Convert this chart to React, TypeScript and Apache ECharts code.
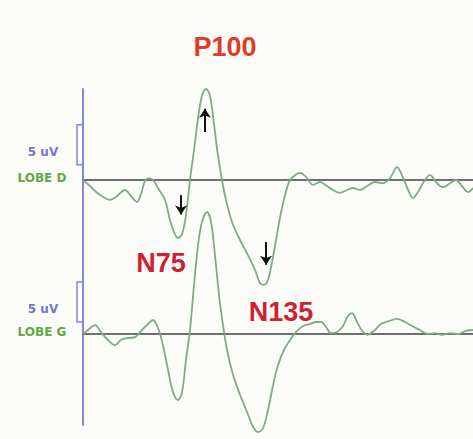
import React, { useEffect, useRef } from "react";
import * as echarts from "echarts";

// LOBE D (right) trace: time in ms, amplitude in µV
const timesD = [0, 5.4, 10.8, 16.9, 20.8, 26.2, 32.3, 36.9, 41.5, 44.6, 47.7, 50.8, 53.8, 57.7, 63.1, 66.9, 70, 73.1, 76.2, 79.2, 82.3, 85.4, 88.5, 91.5, 94.6, 97.7, 100.8, 103.8, 106.9, 110, 114.6, 120.8, 126.9, 132.3, 136.2, 139.2, 142.3, 145.4, 148.5, 151.5, 155.4, 159.2, 163.1, 166.9, 171.5, 176.9, 182.3, 187.7, 192.3, 197.7, 203.1, 207.7, 213.1, 218.5, 224.6, 230.8, 236.2, 241.5, 246.9, 250.8, 253.8, 257.7, 261.5, 266.9, 272.3, 276.9, 282.3, 286.9, 291.5, 296.2, 300];
const valuesD = [0, -0.75, -1.6, -2.25, -2.5, -2, -1.25, -2, -2.75, -1.75, -0.1, 0.2, 0, -1, -2.5, -5, -6.5, -7.25, -6.75, -4.4, 0, 3.75, 7.75, 10.5, 11.4, 10.5, 6.9, 3.1, 0, -2.5, -5.25, -7.5, -9.4, -11.25, -12.9, -13.1, -12.5, -10.25, -7.5, -4.75, -1.9, 0, 0.6, 0.9, 0.4, -0.6, -0.25, -0.75, -1.25, -1.6, -1.25, -1, -1.25, -0.75, -0.25, -0.4, 0.25, 1.6, 0, -1.5, -2.25, -1.5, -0.4, 0.6, -0.4, -0.9, -0.4, 0, -0.75, -1.5, -1];

// LOBE G (left) trace
const timesG = [0, 3.8, 9.2, 13.8, 19.2, 24.6, 29.2, 34.6, 40, 45.4, 50, 53.8, 57.7, 61.5, 65.4, 69.2, 73.1, 76.2, 79.2, 82.3, 85.4, 88.5, 91.5, 95.4, 98.5, 101.5, 104.6, 107.7, 110.8, 115.4, 120.8, 126.2, 130.8, 134.6, 138.5, 142.3, 146.2, 150, 154.6, 159.2, 163.1, 169.2, 174.6, 179.2, 183.1, 186.9, 190.8, 195.4, 200, 203.8, 206.9, 210.8, 214.6, 218.5, 224.6, 229.2, 235.4, 241.5, 247.7, 253.1, 259.2, 265.4, 270.8, 276.2, 282.3, 288.5, 294.6, 300];
const valuesG = [0, 0.5, 1.1, 0.25, -0.75, -1.4, -0.75, -0.5, -0.4, 0.5, 1.25, 1.75, 0.75, -1.4, -4.5, -7.25, -8.25, -7.25, -3.25, 0.5, 6.1, 11.1, 14, 15.25, 14, 9.9, 4.9, 1.1, -2, -5.1, -7.6, -9.75, -11.6, -12.25, -11.75, -9.5, -6.4, -3.9, -2, -0.75, 0.1, 1, 1.25, 1.5, 1.5, 0.9, 0.1, 0.25, 1, 2.25, 2.6, 1.5, 0.4, -0.1, 0.5, 1.25, 1.6, 1.9, 1.5, 1, 0.5, 0, 0.1, -0.1, 0.1, 0, 0.4, 0.5];

// Peak annotations (label position and arrow in data units of LOBE D)
const peakNames = ["P100", "N75", "N135"];
const peakLabelT = [109.2, 60, 152.3];
const peakLabelV = [16.6, -10.4, -16.5];
const arrowT = [93.8, 75.4, 140.8];
const arrowFrom = [6, -1.9, -7.75];
const arrowTo = [8.9, -4.3, -10.6];

// Channel names and 5 µV calibration bars
const channelNames = ["LOBE D", "LOBE G"];
const calibLow = [1.9, 1.5];
const calibSize = 5;

export default function App() {
  const ref = useRef<HTMLDivElement>(null);
  useEffect(() => {
    const chart = echarts.init(ref.current!, null, { renderer: "svg" });
    const gridBox = { left: 83, right: 0, top: 89, height: 336 };
    const xAx = (i: number) => ({
      type: "value",
      gridIndex: i,
      min: 0,
      max: 300,
      axisLine: { show: true, onZero: true, lineStyle: { color: "#6f6f6f", width: 2 } },
      axisTick: { show: false },
      axisLabel: { show: false },
      splitLine: { show: false },
    });
    const traceColor = "#82aa82";
    chart.setOption({
      animation: false,
      backgroundColor: "#fbfcf8",
      grid: [{ ...gridBox }, { ...gridBox }],
      xAxis: [xAx(0), xAx(1)],
      yAxis: [
        {
          type: "value",
          gridIndex: 0,
          min: -30.625,
          max: 11.375,
          axisLine: { show: true, onZero: false, lineStyle: { color: "#8585dc", width: 2 } },
          axisTick: { show: false },
          axisLabel: { show: false },
          splitLine: { show: false },
        },
        {
          type: "value",
          gridIndex: 1,
          min: -11.375,
          max: 30.625,
          axisLine: { show: false },
          axisTick: { show: false },
          axisLabel: { show: false },
          splitLine: { show: false },
        },
      ],
      series: [
        {
          type: "line",
          name: channelNames[0],
          xAxisIndex: 0,
          yAxisIndex: 0,
          data: timesD.map((t, i) => [t, valuesD[i]]),
          showSymbol: false,
          smooth: 0.35,
          clip: false,
          lineStyle: { color: traceColor, width: 1.8 },
          z: 3,
          markLine: {
            silent: true,
            symbol: ["none", "arrow"],
            symbolSize: 9,
            label: { show: false },
            lineStyle: { color: "#111", width: 2, type: "solid" },
            data: arrowT.map((t, i) => [
              { coord: [t, arrowFrom[i]] },
              { coord: [t, arrowTo[i]] },
            ]),
          },
        },
        {
          type: "line",
          name: channelNames[1],
          xAxisIndex: 1,
          yAxisIndex: 1,
          data: timesG.map((t, i) => [t, valuesG[i]]),
          showSymbol: false,
          smooth: 0.35,
          clip: false,
          lineStyle: { color: traceColor, width: 1.8 },
          z: 3,
        },
      ],
    });

    const px = (g: number, t: number, v: number) =>
      chart.convertToPixel({ xAxisIndex: g, yAxisIndex: g }, [t, v]) as number[];

    const graphics: any[] = [];
    peakNames.forEach((name, i) => {
      const p = px(0, peakLabelT[i], peakLabelV[i]);
      graphics.push({
        type: "text",
        x: p[0],
        y: p[1],
        z: 10,
        style: {
          text: name,
          fill: i === 0 ? "#e03c2a" : "#cf1f34",
          font: "bold 27px 'Liberation Sans', Arial, sans-serif",
          align: "center",
          verticalAlign: "middle",
        },
      });
    });
    channelNames.forEach((name, g) => {
      const base = px(g, 0, 0);
      const lo = px(g, 0, calibLow[g]);
      const hi = px(g, 0, calibLow[g] + calibSize);
      const ax = base[0] - 1;
      graphics.push({
        type: "polyline",
        z: 10,
        shape: { points: [[ax, hi[1]], [ax - 5, hi[1]], [ax - 5, lo[1]], [ax, lo[1]]] },
        style: { stroke: "#8585dc", lineWidth: 1.5, fill: null },
      });
      graphics.push({
        type: "text",
        x: ax - 39,
        y: (hi[1] + lo[1]) / 2 + 7,
        z: 10,
        style: {
          text: "5 uV",
          fill: "#7676c8",
          font: "bold 12px 'DejaVu Sans', sans-serif",
          align: "center",
          verticalAlign: "middle",
        },
      });
      graphics.push({
        type: "text",
        x: ax - 40,
        y: base[1] - 2,
        z: 10,
        style: {
          text: name,
          fill: "#62a846",
          font: "bold 12px 'DejaVu Sans', sans-serif",
          align: "center",
          verticalAlign: "middle",
        },
      });
    });
    chart.setOption({ graphic: graphics });

    return () => chart.dispose();
  }, []);
  return (
    <div
      ref={ref}
      style={{ position: "fixed", left: 0, top: 0, width: 473, height: 439 }}
    />
  );
}
